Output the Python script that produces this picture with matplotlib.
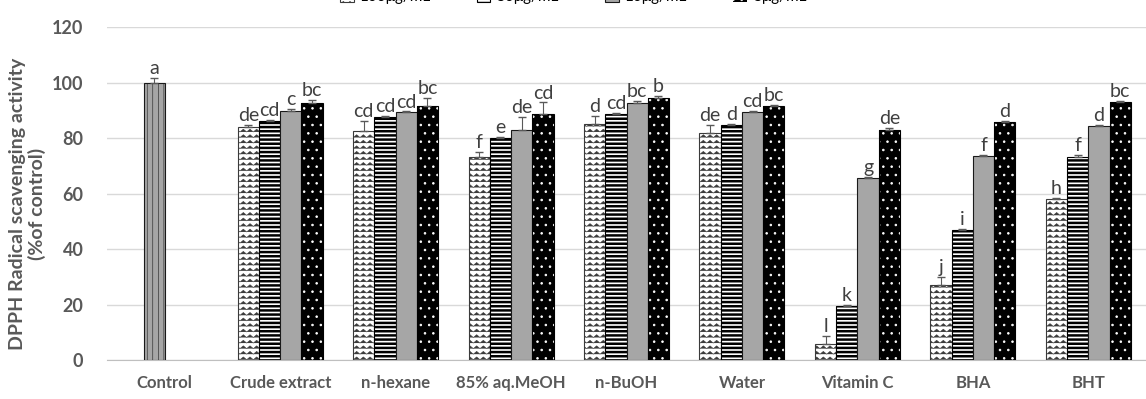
import warnings
import numpy as np
import matplotlib
matplotlib.use("Agg")
import matplotlib.pyplot as plt
from matplotlib import hatch as mhatch
from matplotlib.path import Path

warnings.filterwarnings("ignore", message=".*hatch must consist.*")


# zigzag fill like the Excel "wave" pattern
class ZigZagHatch(mhatch.HatchPatternBase):
    def __init__(self, hatch, density):
        self.num_rows = int(hatch.count('z') * density)
        self.num_teeth = 15
        self.num_vertices = self.num_rows * (2 * self.num_teeth + 1)

    def set_vertices_and_codes(self, vertices, codes):
        n = 2 * self.num_teeth + 1
        xs = np.linspace(0, 1, n)
        amp = 0.25 / self.num_rows
        offs = np.where(np.arange(n) % 2 == 0, -amp, amp)
        for i in range(self.num_rows):
            y = (i + 0.5) / self.num_rows
            vertices[i * n:(i + 1) * n, 0] = xs
            vertices[i * n:(i + 1) * n, 1] = y + offs
            codes[i * n] = Path.MOVETO
            codes[i * n + 1:(i + 1) * n] = Path.LINETO


mhatch._hatch_types.append(ZigZagHatch)

categories = ["Control", "Crude extract", "n-hexane", "85% aq.MeOH", "n-BuOH",
              "Water", "Vitamin C", "BHA", "BHT"]
concs = ["100μg/mL", "50μg/mL", "10μg/mL", "5μg/mL"]

control_val = 100.0
control_err = 1.6
control_letter = "a"

# samples (without control), one list per concentration
v100 = [84.1, 82.5, 73.3, 85.2, 81.9, 5.8, 26.9, 58.0]
v50 = [86.1, 87.5, 80.1, 88.6, 84.7, 19.6, 46.8, 73.3]
v10 = [89.7, 89.3, 82.9, 92.5, 89.3, 65.7, 73.6, 84.4]
v5 = [92.7, 91.5, 88.6, 94.3, 91.5, 82.9, 85.8, 93.1]

e100 = [0.5, 3.6, 1.8, 2.9, 2.8, 2.9, 3.0, 0.3]
e50 = [0.5, 0.5, 0.3, 0.5, 0.5, 0.3, 0.3, 0.5]
e10 = [0.8, 0.3, 4.6, 1.0, 0.5, 0.3, 0.3, 0.3]
e5 = [0.9, 2.8, 4.2, 1.0, 0.5, 0.8, 0.3, 0.3]

l100 = ["de", "cd", "f", "d", "de", "l", "j", "h"]
l50 = ["cd", "cd", "e", "cd", "d", "k", "i", "f"]
l10 = ["c", "cd", "de", "bc", "cd", "g", "f", "d"]
l5 = ["bc", "bc", "cd", "b", "bc", "de", "d", "bc"]

vals = [v100, v50, v10, v5]
errs = [e100, e50, e10, e5]
letters = [l100, l50, l10, l5]

plt.rcParams['font.family'] = ['Lato', 'DejaVu Sans']
plt.rcParams['hatch.linewidth'] = 0.4

fig = plt.figure(figsize=(11.46, 3.99), dpi=100)
ax = fig.add_axes([0.0934, 0.0977, 0.9066, 0.8346])

w = 0.184
x = np.arange(1, len(categories))
edge = '#1a1a1a'
txt = '#404040'

# control bar
cb = ax.bar(0 - w / 2, control_val, w, color='#a6a6a6', edgecolor=edge,
            hatch='|||', linewidth=0.8, zorder=3)
ax.errorbar(0 - w / 2, control_val, yerr=[[0], [control_err]], fmt='none',
            ecolor='#595959', elinewidth=0.8, capsize=3, zorder=4)
ax.text(0 - w / 2, control_val + control_err + 0.5, control_letter, ha='center',
        va='bottom', fontsize=14, color=txt)

styles = [
    dict(color='white', edgecolor='#3a3a3a', hatch='zzz', hlw=0.4),
    dict(color='white', edgecolor='black', hatch='----', hlw=1.8),
    dict(color='#a6a6a6', edgecolor=edge, hatch=None, hlw=1.0),
    dict(color='black', edgecolor='white', hatch='..', hlw=0.6),
]

handles = []
for i in range(4):
    xs = x + (i - 1.5) * w
    st = styles[i]
    lw = 0 if i == 3 else 0.8
    with plt.rc_context({'hatch.linewidth': st['hlw']}):
        bars = ax.bar(xs, vals[i], w, color=st['color'],
                      edgecolor=st['edgecolor'], hatch=st['hatch'],
                      linewidth=lw, zorder=3, label=concs[i])
    for p in bars:
        if hasattr(p, 'set_hatch_linewidth'):
            p.set_hatch_linewidth(st['hlw'])
    if i == 3:
        ax.bar(xs, vals[i], w, fill=False, edgecolor='black', linewidth=0.8,
               zorder=3)
    handles.append(bars)
    ax.errorbar(xs, vals[i], yerr=[np.zeros(len(xs)), errs[i]], fmt='none',
                ecolor='#595959', elinewidth=0.8, capsize=3, zorder=4)
    for xi, v, e, lab in zip(xs, vals[i], errs[i], letters[i]):
        ax.text(xi, v + e + 0.3, lab, ha='center', va='bottom', fontsize=14,
                color=txt)

ax.set_xlim(-0.5, len(categories) - 0.5)
ax.set_ylim(0, 120)
ax.set_yticks(range(0, 121, 20))
ax.set_xticks(range(len(categories)))
ax.set_xticklabels(categories)
ax.yaxis.grid(True, color='#d9d9d9', linewidth=1)
ax.set_axisbelow(True)
for s in ['top', 'right', 'left']:
    ax.spines[s].set_visible(False)
ax.spines['bottom'].set_color('#bfbfbf')
ax.tick_params(axis='both', length=0, labelcolor='#595959')
ax.tick_params(axis='x', labelsize=12, pad=11)
ax.tick_params(axis='y', labelsize=13, pad=17)
for t in ax.get_xticklabels() + ax.get_yticklabels():
    t.set_fontweight('bold')

fig.text(0.024, 0.49, "DPPH Radical scavenging activity\n(%of control)",
         rotation=90, ha='center', va='center', fontsize=14,
         fontweight='bold', color='#595959', multialignment='center',
         linespacing=1.1)

fig.legend(handles, concs, loc='center', ncol=4, bbox_to_anchor=(0.5, 1.008),
           frameon=False, fontsize=11, handlelength=0.9, handleheight=0.9,
           columnspacing=3.0, handletextpad=0.4)

fig.savefig("out.png", dpi=100)
